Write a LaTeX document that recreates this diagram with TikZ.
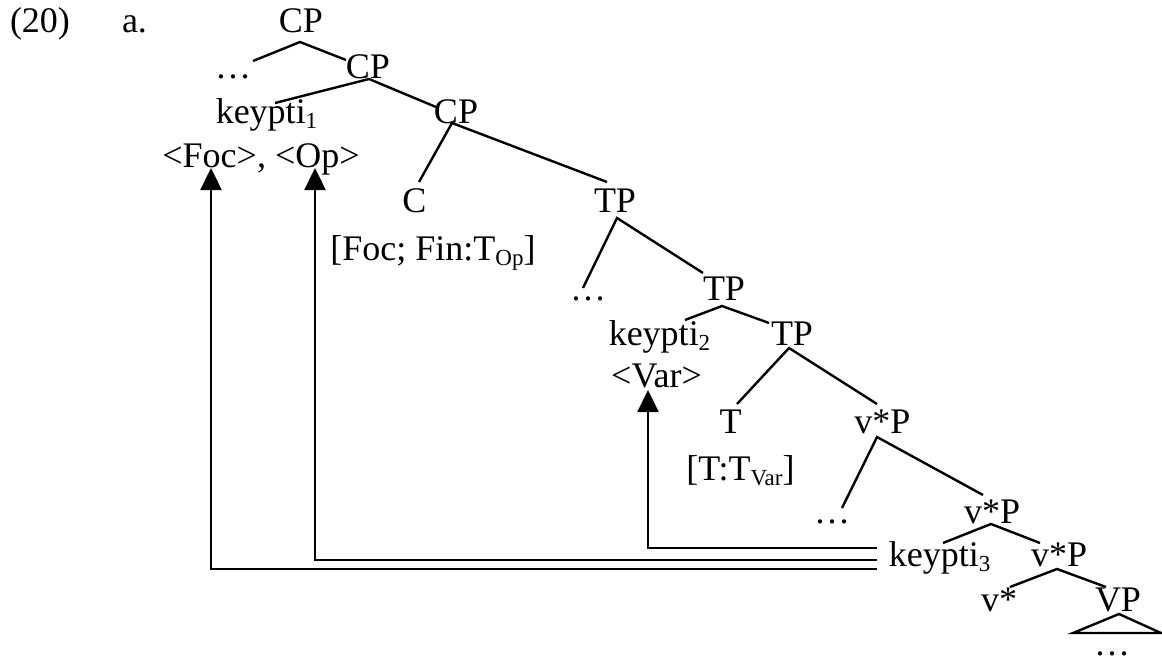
\documentclass[tikz,border=0pt]{standalone}
\usepackage{fontspec}
\setmainfont{Liberation Serif}
\usetikzlibrary{arrows.meta}
\newcommand\lowsub[1]{\raisebox{-5.5pt}{\fontsize{23}{23}\selectfont #1}}
\begin{document}
\begin{tikzpicture}[x=1pt,y=-1pt,
  lbl/.style={inner sep=0pt,anchor=base,font=\fontsize{36}{40}\selectfont},
  br/.style={line width=2.4pt},
  mv/.style={line width=2.4pt,-{Triangle[length=22pt,width=21pt]}}]
\useasboundingbox (0,0) rectangle (1162,661);

% example number
\node[lbl] (num) at (40,33) {(20)};
\node[lbl] (sub) at (134.5,33) {a.};

% labels of the tree
\node[lbl] (cp1) at (301,33) {CP};
\node[lbl] (d1) at (233,78) {…};
\node[lbl] (cp2) at (368,78) {CP};
\node[lbl] (k1) at (266.5,123) {keypti\lowsub{1}};
\node[lbl] (cp3) at (456,123) {CP};
\node[lbl] (f1) at (261,167) {<Foc>, <Op>};
\node[lbl] (c) at (414.5,212) {C};
\node[lbl] (tp1) at (615,212) {TP};
\node[lbl] (cf) at (433,260) {[Foc; Fin:T\lowsub{Op}]};
\node[lbl] (d2) at (588,300) {…};
\node[lbl] (tp2) at (724,300) {TP};
\node[lbl] (k2) at (659.5,345) {keypti\lowsub{2}};
\node[lbl] (tp3) at (792,345) {TP};
\node[lbl] (var) at (656.5,387) {<Var>};
\node[lbl] (t) at (730.5,433) {T};
\node[lbl] (vp1) at (882.5,433) {v*P};
\node[lbl] (tf) at (740.5,480) {[T:T\lowsub{Var}]};
\node[lbl] (d3) at (832,523) {…};
\node[lbl] (vp2) at (992,523) {v*P};
\node[lbl] (k3) at (939.5,566) {keypti\lowsub{3}};
\node[lbl] (vp3) at (1059,566) {v*P};
\node[lbl] (vs) at (999,611) {v*};
\node[lbl] (vp) at (1118,611) {VP};
\node[lbl] (d4) at (1112,655) {…};

% branch points
\coordinate (cp1a) at (300,42);  \coordinate (cp1l) at (253,61);  \coordinate (cp1r) at (346,60);
\coordinate (cp2a) at (369,79);  \coordinate (cp2l) at (275,103); \coordinate (cp2r) at (436,107);
\coordinate (cp3a) at (452,123); \coordinate (cp3l) at (419,182); \coordinate (cp3r) at (607,182);
\coordinate (tp1a) at (617,218); \coordinate (tp1l) at (583,288); \coordinate (tp1r) at (703,273);
\coordinate (tp2a) at (722,306); \coordinate (tp2l) at (685,320); \coordinate (tp2r) at (769,323);
\coordinate (tp3a) at (789,348); \coordinate (tp3l) at (737,404); \coordinate (tp3r) at (877,404);
\coordinate (vp1a) at (877,437); \coordinate (vp1l) at (842,508); \coordinate (vp1r) at (983,495);
\coordinate (vp2a) at (991,524); \coordinate (vp2l) at (943,543); \coordinate (vp2r) at (1040,543);
\coordinate (vp3a) at (1057,569); \coordinate (vp3l) at (1010,587); \coordinate (vp3r) at (1106,587);
\coordinate (vpa) at (1119,614); \coordinate (vpl) at (1073,633); \coordinate (vpr) at (1161,633);

\draw[br] (cp1l) -- (cp1a) -- (cp1r);
\draw[br] (cp2l) -- (cp2a) -- (cp2r);
\draw[br] (cp3l) -- (cp3a) -- (cp3r);
\draw[br] (tp1l) -- (tp1a) -- (tp1r);
\draw[br] (tp2l) -- (tp2a) -- (tp2r);
\draw[br] (tp3l) -- (tp3a) -- (tp3r);
\draw[br] (vp1l) -- (vp1a) -- (vp1r);
\draw[br] (vp2l) -- (vp2a) -- (vp2r);
\draw[br] (vp3l) -- (vp3a) -- (vp3r);
\draw[br] (vpl) -- (vpa) -- (vpr) -- cycle;

% movement paths from keypti_3
\coordinate (m3) at (877,548); \coordinate (varTip) at (648,390);
\coordinate (m2) at (877,560); \coordinate (opTip) at (315,168);
\coordinate (m1) at (877,569); \coordinate (focTip) at (211,168);
\draw[mv] (m3) -| (varTip);
\draw[mv] (m2) -| (opTip);
\draw[mv] (m1) -| (focTip);
\end{tikzpicture}
\end{document}
